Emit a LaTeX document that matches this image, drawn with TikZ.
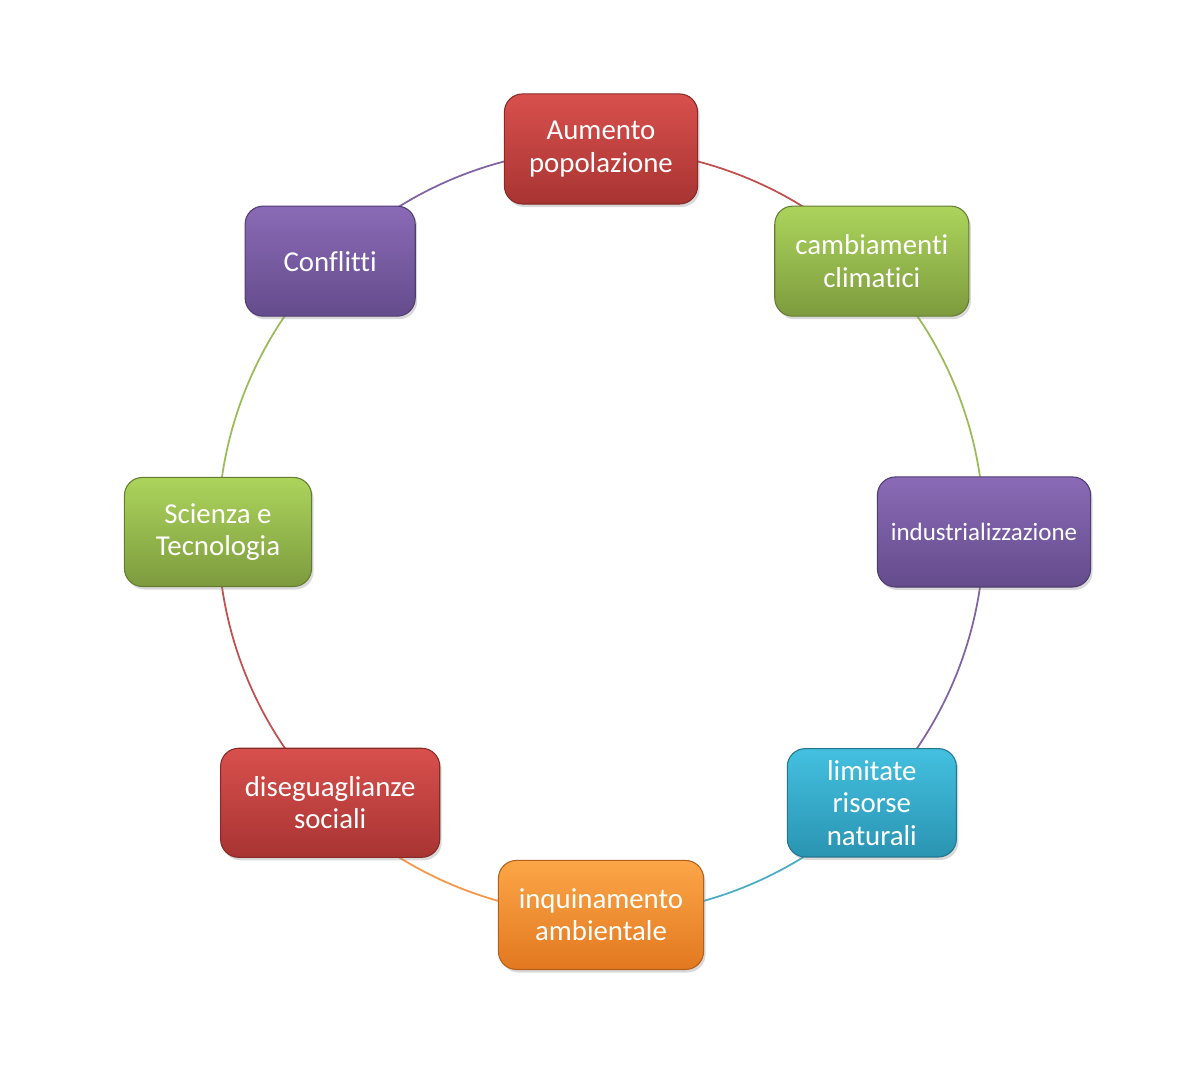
\documentclass[tikz,border=0pt]{standalone}
\usepackage{fontspec}
\setmainfont{Carlito}[Ligatures={NoCommon}]
\usetikzlibrary{calc,shadows,backgrounds}

\definecolor{redT}{RGB}{216,80,77}
\definecolor{redB}{RGB}{168,52,50}
\definecolor{redL}{RGB}{192,80,77}
\definecolor{greenT}{RGB}{172,212,92}
\definecolor{greenB}{RGB}{125,155,62}
\definecolor{greenL}{RGB}{155,187,89}
\definecolor{purpleT}{RGB}{138,106,182}
\definecolor{purpleB}{RGB}{100,76,140}
\definecolor{purpleL}{RGB}{128,100,162}
\definecolor{cyanT}{RGB}{68,192,224}
\definecolor{cyanB}{RGB}{42,148,178}
\definecolor{cyanL}{RGB}{75,172,198}
\definecolor{orangeT}{RGB}{252,166,72}
\definecolor{orangeB}{RGB}{226,120,32}
\definecolor{orangeL}{RGB}{247,150,70}

\tikzset{
  box/.style={rounded corners=0.18cm, minimum height=1.1cm, align=center,
    text=white, font=\fontsize{8.2}{9.2}\selectfont,
    drop shadow={opacity=0.3, shadow xshift=0.02cm, shadow yshift=-0.03cm}},
  redbox/.style={box, top color=redT, bottom color=redB, draw=redB!80!black, line width=0.3pt},
  greenbox/.style={box, top color=greenT, bottom color=greenB, draw=greenB!80!black, line width=0.3pt},
  purplebox/.style={box, top color=purpleT, bottom color=purpleB, draw=purpleB!80!black, line width=0.3pt},
  cyanbox/.style={box, top color=cyanT, bottom color=cyanB, draw=cyanB!80!black, line width=0.3pt},
  orangebox/.style={box, top color=orangeT, bottom color=orangeB, draw=orangeB!80!black, line width=0.3pt},
  link/.style={line width=0.5pt, bend left=22.5, looseness=0.885}
}

\begin{document}
\begin{tikzpicture}[x=0.01cm, y=0.01cm]
  \useasboundingbox (0,0) rectangle (1184,1077);
  \coordinate (c) at (601,545);

  \path ($(c)+(90:383)$) coordinate (p1)
        ($(c)+(45:383)$) coordinate (p2)
        ($(c)+(0:383)$) coordinate (p3)
        ($(c)+(-45:383)$) coordinate (p4)
        ($(c)+(-90:383)$) coordinate (p5)
        ($(c)+(-135:383)$) coordinate (p6)
        ($(c)+(180:383)$) coordinate (p7)
        ($(c)+(135:383)$) coordinate (p8);

  \node[redbox, minimum width=1.93cm] (pop) at (p1) {Aumento\\popolazione};
  \node[greenbox, minimum width=1.94cm] (clima) at (p2) {cambiamenti\\climatici};
  \node[purplebox, minimum width=2.13cm, font=\fontsize{7.1}{8}\selectfont] (indu) at (p3) {industrializzazione};
  \node[cyanbox, minimum width=1.69cm, minimum height=1.08cm] (risorse) at (p4) {limitate\\risorse\\naturali};
  \node[orangebox, minimum width=2.05cm, minimum height=1.09cm] (inquin) at (p5) {inquinamento\\ambientale};
  \node[redbox, minimum width=2.19cm, minimum height=1.09cm] (disug) at (p6) {diseguaglianze\\sociali};
  \node[greenbox, minimum width=1.87cm, minimum height=1.09cm] (scienza) at (p7) {Scienza e\\Tecnologia};
  \node[purplebox, minimum width=1.70cm] (confl) at (p8) {Conflitti};

  % arcs behind the boxes, centre to centre
  \begin{pgfonlayer}{background}
    \draw[link, redL] (pop.center) to (clima.center);
    \draw[link, greenL] (clima.center) to (indu.center);
    \draw[link, purpleL] (indu.center) to (risorse.center);
    \draw[link, cyanL] (risorse.center) to (inquin.center);
    \draw[link, orangeL] (inquin.center) to (disug.center);
    \draw[link, redL] (disug.center) to (scienza.center);
    \draw[link, greenL] (scienza.center) to (confl.center);
    \draw[link, purpleL] (confl.center) to (pop.center);
  \end{pgfonlayer}
\end{tikzpicture}
\end{document}
